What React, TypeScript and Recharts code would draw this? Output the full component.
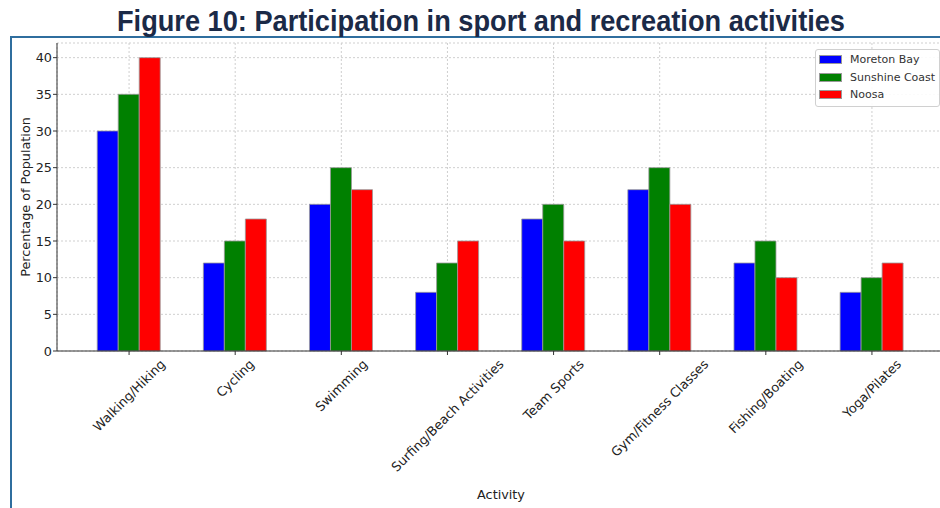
import React, { useLayoutEffect, useRef, useState } from "react";
import { BarChart, Bar, XAxis, YAxis, CartesianGrid, Legend } from "recharts";

const activities = [
  "Walking/Hiking",
  "Cycling",
  "Swimming",
  "Surfing/Beach Activities",
  "Team Sports",
  "Gym/Fitness Classes",
  "Fishing/Boating",
  "Yoga/Pilates",
];
const moretonBay = [30, 12, 20, 8, 18, 22, 12, 8];
const sunshineCoast = [35, 15, 25, 12, 20, 25, 15, 10];
const noosa = [40, 18, 22, 15, 15, 20, 10, 12];
const yTicks = [0, 5, 10, 15, 20, 25, 30, 35, 40];
const seriesNames = ["Moreton Bay", "Sunshine Coast", "Noosa"];

const data = activities.map((a, i) => ({
  activity: a,
  moreton: moretonBay[i],
  sunshine: sunshineCoast[i],
  noosa: noosa[i],
}));

const FONT = "'DejaVu Sans', sans-serif";
const TICK_FS = 12.8;

function XTick(props: any) {
  const { x, y, payload } = props;
  const ref = useRef<SVGTextElement>(null);
  const [len, setLen] = useState(0);
  useLayoutEffect(() => {
    if (ref.current) setLen(ref.current.getComputedTextLength());
  }, [payload.value]);
  const H = 13.5;
  const off = ((len + H) * Math.SQRT1_2) / 2;
  return (
    <g transform={`translate(${x},${y + off}) rotate(-45)`}>
      <text
        ref={ref}
        x={0}
        y={0}
        textAnchor="middle"
        dominantBaseline="central"
        fontSize={TICK_FS}
        fontFamily={FONT}
        fill="#222"
      >
        {payload.value}
      </text>
    </g>
  );
}

function LegendBox(props: any) {
  const payload = props.payload || [];
  const ordered = seriesNames
    .map((n) => payload.find((e: any) => e.value === n))
    .filter(Boolean);
  return (
    <div
      style={{
        width: 117,
        border: "1px solid #d0d0d0",
        borderRadius: 3,
        background: "rgba(255,255,255,0.9)",
        padding: "1px 3px 3px 3px",
        fontFamily: FONT,
        fontSize: 11,
        color: "#333",
        boxSizing: "content-box",
        textAlign: "left",
      }}
    >
      {ordered.map((e: any) => (
        <div
          key={e.value}
          style={{ display: "flex", alignItems: "center", height: 17.4, whiteSpace: "nowrap" }}
        >
          <span
            style={{
              display: "inline-block",
              width: 21,
              height: 7,
              background: e.color,
              border: "1px solid #999",
              marginRight: 8,
            }}
          />
          <span>{e.value}</span>
        </div>
      ))}
    </div>
  );
}

export default function App() {
  return (
    <div
      style={{
        position: "absolute",
        left: 0,
        top: 0,
        width: 940,
        height: 508,
        overflow: "hidden",
        background: "#fff",
      }}
    >
      <div
        style={{
          position: "absolute",
          left: 10,
          top: 36,
          width: 2000,
          height: 1000,
          borderLeft: "2px solid #2f6e9e",
          borderTop: "2px solid #2f6e9e",
        }}
      />
      <div style={{ position: "absolute", left: 0, top: 0 }}>
        <BarChart
          width={960}
          height={508}
          data={data}
          margin={{ top: 43, right: 16, bottom: 27, left: 0 }}
          barCategoryGap="20%"
          barGap={0}
        >
          <CartesianGrid stroke="#cfcfcf" strokeDasharray="2 2" vertical={true} horizontal={true} />
          <XAxis
            dataKey="activity"
            interval={0}
            height={130}
            padding={{ left: 19, right: 19 }}
            axisLine={{ stroke: "#333" }}
            tickLine={{ stroke: "#333" }}
            tickSize={4}
            tickMargin={2}
            tick={<XTick />}
          />
          <YAxis
            width={57}
            domain={[0, 42]}
            ticks={yTicks}
            interval={0}
            axisLine={{ stroke: "#333" }}
            tickLine={{ stroke: "#333" }}
            tickSize={4}
            tickMargin={1}
            tick={{ fontSize: TICK_FS, fontFamily: FONT, fill: "#222" }}
          />
          <Legend
            layout="vertical"
            verticalAlign="middle"
            align="center"
            content={<LegendBox />}
            wrapperStyle={{ position: "absolute", left: 815, top: 49, width: "auto", height: "auto" }}
          />
          <Bar dataKey="moreton" name="Moreton Bay" fill="#0000ff" stroke="#999" strokeWidth={0.8} isAnimationActive={false} />
          <Bar dataKey="sunshine" name="Sunshine Coast" fill="#008000" stroke="#999" strokeWidth={0.8} isAnimationActive={false} />
          <Bar dataKey="noosa" name="Noosa" fill="#ff0000" stroke="#999" strokeWidth={0.8} isAnimationActive={false} />
        </BarChart>
      </div>
      <svg
        width={940}
        height={508}
        style={{ position: "absolute", left: 0, top: 0, pointerEvents: "none" }}
      >
        <text
          x={481}
          y={31}
          textAnchor="middle"
          fontSize={29}
          fontWeight="bold"
          fontFamily="'Liberation Sans', Arial, sans-serif"
          fill="#1b2a47"
          textLength={728}
          lengthAdjust="spacingAndGlyphs"
        >
          Figure 10: Participation in sport and recreation activities
        </text>
        <text
          transform="translate(25,197) rotate(-90)"
          textAnchor="middle"
          dominantBaseline="central"
          fontSize={TICK_FS}
          fontFamily={FONT}
          fill="#222"
        >
          Percentage of Population
        </text>
        <text x={501} y={499} textAnchor="middle" fontSize={TICK_FS} fontFamily={FONT} fill="#222">
          Activity
        </text>
      </svg>
    </div>
  );
}
